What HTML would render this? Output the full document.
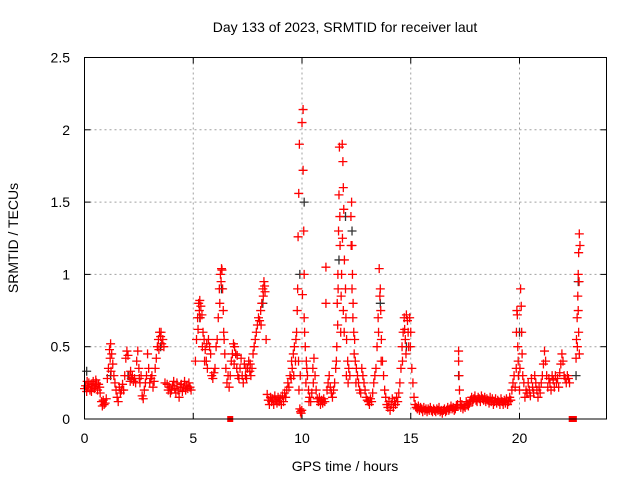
<!DOCTYPE html>
<html><head><meta charset="utf-8"><style>
body{margin:0;background:#fff;}
svg{display:block;font-family:"Liberation Sans",sans-serif;}
</style></head><body>
<svg id="chart" width="640" height="480">
<text x="345" y="32" font-size="14" text-anchor="middle">Day 133 of 2023, SRMTID for receiver laut</text>
<text x="345" y="471" font-size="14" text-anchor="middle">GPS time / hours</text>
<text transform="translate(18,238) rotate(-90)" font-size="14" text-anchor="middle">SRMTID / TECUs</text>
<g id="grid"></g>
<g id="ticks"></g>
<g id="black"></g>
<g id="red"></g>
<rect x="84.5" y="57.5" width="522" height="361.5" fill="none" stroke="#000"/>
</svg>
<script>
const xTicks=[0,5,10,15,20];
const yTicks=[0,0.5,1,1.5,2,2.5];
const yTickLabels=["0","0.5","1","1.5","2","2.5"];
const redPoints=[
[0,0.21],[0.05,0.23],[0.1,0.19],[0.15,0.22],[0.2,0.25],[0.25,0.2],[0.3,0.24],[0.35,0.22],[0.4,0.26],[0.45,0.21],[0.5,0.23],[0.55,0.25],[0.6,0.2],[0.65,0.24],[0.7,0.22],[0.72,0.18],[0.78,0.12],[0.82,0.09],[0.86,0.13],[0.9,0.1],[0.95,0.11],[1.0,0.14],[1.05,0.28],[1.1,0.35],[1.15,0.48],[1.2,0.52],[1.25,0.45],[1.3,0.38],[1.35,0.3],[1.4,0.25],[1.45,0.2],[1.5,0.15],[1.55,0.12],[1.6,0.22],[1.65,0.18],[1.7,0.2],[1.75,0.24],[1.8,0.2],[1.85,0.3],[1.9,0.42],[1.95,0.47],[2.0,0.44],[2.05,0.3],[2.1,0.26],[2.15,0.28],[2.2,0.3],[2.25,0.26],[2.3,0.28],[2.35,0.25],[2.4,0.4],[2.45,0.47],[2.5,0.35],[2.55,0.25],[2.6,0.3],[2.65,0.16],[2.7,0.14],[2.75,0.2],[2.8,0.25],[2.85,0.3],[2.9,0.45],[2.95,0.35],[3.0,0.25],[3.05,0.28],[3.1,0.3],[3.15,0.22],[3.2,0.26],[3.25,0.35],[3.3,0.42],[3.35,0.5],[3.4,0.55],[3.45,0.6],[3.5,0.57],[3.55,0.52],[3.6,0.55],[3.65,0.5],[3.7,0.25],[3.8,0.24],[3.85,0.2],[3.9,0.22],[3.95,0.18],[4.0,0.2],[4.05,0.23],[4.1,0.26],[4.15,0.21],[4.2,0.18],[4.25,0.25],[4.3,0.2],[4.35,0.15],[4.4,0.22],[4.45,0.24],[4.5,0.19],[4.55,0.22],[4.6,0.26],[4.65,0.2],[4.7,0.23],[4.75,0.21],[4.8,0.25],[4.85,0.22],[4.9,0.2],[5.1,0.4],[5.15,0.55],[5.2,0.7],[5.25,0.8],[5.3,0.82],[5.35,0.78],[5.4,0.72],[5.45,0.6],[5.5,0.55],[5.55,0.48],[5.6,0.4],[5.65,0.35],[5.7,0.55],[5.75,0.5],[5.8,0.45],[5.85,0.3],[5.9,0.28],[5.95,0.32],[6.0,0.35],[6.05,0.5],[6.1,0.55],[6.15,0.7],[6.2,0.9],[6.25,1.0],[6.3,1.04],[6.35,0.9],[6.38,0.75],[6.42,0.55],[6.45,0.45],[6.5,0.35],[6.55,0.25],[6.6,0.3],[6.65,0.22],[6.7,0.3],[6.75,0.4],[6.8,0.45],[6.85,0.52],[6.9,0.5],[6.95,0.45],[7.0,0.35],[7.05,0.3],[7.1,0.28],[7.15,0.35],[7.2,0.42],[7.25,0.3],[7.3,0.25],[7.35,0.38],[7.4,0.3],[7.45,0.28],[7.5,0.35],[7.55,0.4],[7.6,0.33],[7.65,0.3],[7.7,0.35],[7.75,0.45],[7.8,0.5],[7.85,0.55],[7.9,0.6],[7.95,0.65],[8.0,0.7],[8.05,0.68],[8.1,0.75],[8.15,0.8],[8.2,0.9],[8.25,0.95],[8.3,0.88],[8.35,0.55],[8.4,0.17],[8.45,0.13],[8.5,0.1],[8.55,0.15],[8.6,0.12],[8.65,0.14],[8.7,0.1],[8.75,0.16],[8.8,0.13],[8.85,0.11],[8.9,0.15],[8.95,0.12],[9.0,0.14],[9.05,0.1],[9.1,0.16],[9.15,0.12],[9.2,0.18],[9.25,0.15],[9.3,0.2],[9.35,0.25],[9.4,0.22],[9.45,0.3],[9.5,0.28],[9.55,0.35],[9.6,0.45],[9.65,0.5],[9.7,0.4],[9.75,0.6],[9.8,0.9],[9.82,1.26],[9.85,1.56],[9.88,1.9],[9.9,0.07],[9.93,0.05],[9.96,0.04],[9.99,0.06],[10.0,2.05],[10.05,2.14],[10.05,1.72],[10.1,1.0],[10.1,0.7],[10.15,0.5],[10.2,0.4],[10.25,0.3],[10.3,0.2],[10.35,0.15],[10.4,0.12],[10.45,0.18],[10.5,0.35],[10.55,0.42],[10.6,0.3],[10.65,0.2],[10.7,0.14],[10.75,0.12],[10.8,0.15],[10.85,0.1],[10.9,0.13],[10.95,0.11],[11.0,0.14],[11.05,0.12],[11.1,1.05],[11.1,0.8],[11.15,0.2],[11.2,0.25],[11.25,0.3],[11.3,0.22],[11.35,0.18],[11.4,0.15],[11.45,0.2],[11.5,0.25],[11.55,0.35],[11.6,0.5],[11.62,0.8],[11.65,1.0],[11.68,1.3],[11.7,1.55],[11.72,1.88],[11.75,1.2],[11.78,0.6],[11.8,0.85],[11.85,1.9],[11.88,1.78],[11.9,1.6],[11.92,1.45],[11.95,1.1],[12.0,0.9],[12.02,0.7],[12.05,0.55],[12.1,0.4],[12.15,0.35],[12.2,0.3],[12.25,1.4],[12.28,1.5],[12.3,1.2],[12.32,1.0],[12.35,0.8],[12.38,0.6],[12.4,0.45],[12.45,0.4],[12.5,0.35],[12.55,0.3],[12.6,0.25],[12.65,0.2],[12.7,0.18],[12.75,0.35],[12.8,0.3],[12.85,0.25],[12.9,0.2],[12.95,0.15],[13.0,0.13],[13.05,0.12],[13.1,0.1],[13.15,0.14],[13.2,0.12],[13.25,0.18],[13.3,0.25],[13.35,0.3],[13.4,0.35],[13.45,0.5],[13.5,0.7],[13.55,1.04],[13.6,0.9],[13.62,0.75],[13.65,0.55],[13.7,0.4],[13.75,0.3],[13.8,0.2],[13.85,0.15],[13.9,0.1],[13.95,0.08],[14.0,0.12],[14.05,0.06],[14.1,0.1],[14.15,0.14],[14.2,0.08],[14.25,0.12],[14.3,0.1],[14.35,0.15],[14.4,0.12],[14.45,0.18],[14.5,0.25],[14.55,0.35],[14.6,0.5],[14.65,0.6],[14.7,0.7],[14.75,0.55],[14.8,0.72],[14.85,0.68],[14.9,0.5],[14.95,0.7],[15.0,0.6],[15.05,0.35],[15.1,0.25],[15.15,0.15],[15.2,0.1],[15.25,0.08],[15.3,0.07],[15.35,0.09],[15.4,0.06],[15.45,0.08],[15.5,0.07],[15.55,0.05],[15.6,0.08],[15.65,0.06],[15.7,0.07],[15.75,0.05],[15.8,0.07],[15.85,0.06],[15.9,0.08],[15.95,0.06],[16.0,0.05],[16.05,0.07],[16.1,0.06],[16.15,0.05],[16.2,0.07],[16.25,0.06],[16.3,0.08],[16.35,0.05],[16.4,0.06],[16.45,0.04],[16.5,0.06],[16.55,0.07],[16.6,0.05],[16.65,0.06],[16.7,0.08],[16.75,0.06],[16.8,0.07],[16.85,0.09],[16.9,0.07],[16.95,0.08],[17.0,0.06],[17.05,0.07],[17.1,0.09],[17.15,0.1],[17.2,0.47],[17.2,0.4],[17.22,0.3],[17.24,0.2],[17.28,0.12],[17.3,0.08],[17.35,0.1],[17.4,0.07],[17.45,0.09],[17.5,0.08],[17.55,0.12],[17.6,0.1],[17.65,0.09],[17.7,0.11],[17.75,0.13],[17.8,0.15],[17.85,0.12],[17.9,0.14],[17.95,0.16],[18.0,0.13],[18.05,0.12],[18.1,0.15],[18.15,0.14],[18.2,0.12],[18.25,0.16],[18.3,0.14],[18.35,0.13],[18.4,0.15],[18.45,0.12],[18.5,0.14],[18.55,0.13],[18.6,0.11],[18.65,0.15],[18.7,0.12],[18.75,0.14],[18.8,0.1],[18.85,0.12],[18.9,0.14],[18.95,0.11],[19.0,0.13],[19.05,0.12],[19.1,0.1],[19.15,0.14],[19.2,0.12],[19.25,0.1],[19.3,0.13],[19.35,0.11],[19.4,0.14],[19.45,0.1],[19.5,0.12],[19.55,0.15],[19.6,0.13],[19.65,0.2],[19.7,0.25],[19.75,0.3],[19.8,0.22],[19.85,0.35],[19.88,0.75],[19.9,0.72],[19.92,0.5],[19.95,0.3],[20.0,0.2],[20.05,0.9],[20.08,0.78],[20.1,0.6],[20.12,0.45],[20.15,0.3],[20.2,0.25],[20.25,0.15],[20.3,0.2],[20.35,0.18],[20.4,0.25],[20.45,0.2],[20.5,0.16],[20.55,0.28],[20.6,0.22],[20.65,0.18],[20.7,0.3],[20.75,0.25],[20.8,0.2],[20.85,0.15],[20.9,0.22],[20.95,0.18],[21.0,0.25],[21.05,0.3],[21.1,0.38],[21.15,0.47],[21.2,0.4],[21.25,0.3],[21.3,0.22],[21.35,0.28],[21.4,0.25],[21.45,0.2],[21.5,0.3],[21.55,0.27],[21.6,0.22],[21.65,0.3],[21.7,0.25],[21.75,0.28],[21.8,0.22],[21.85,0.32],[21.9,0.38],[21.95,0.45],[22.0,0.4],[22.05,0.3],[22.1,0.28],[22.15,0.25],[22.2,0.3],[22.25,0.28],[22.3,0.25],[22.4,0.0],[22.5,0.0],[22.6,0.42],[22.62,0.55],[22.65,0.7],[22.68,0.85],[22.7,1.0],[22.72,1.15],[22.75,1.28],[22.78,1.2],[22.75,0.45],[22.72,0.6],[6.7,0.0],
[0.12,0.26],[0.32,0.19],[0.52,0.27],[1.18,0.42],[1.22,0.33],[2.12,0.33],[2.52,0.28],[3.42,0.48],[3.52,0.6],[5.22,0.62],[5.28,0.75],[5.32,0.7],[5.42,0.5],[5.52,0.4],[5.62,0.52],[6.22,0.8],[6.28,0.95],[6.32,1.03],[6.4,0.6],[6.88,0.38],[7.02,0.44],[7.42,0.35],[7.62,0.38],[8.12,0.65],[8.22,0.85],[8.28,0.92],[9.52,0.4],[9.62,0.3],[9.72,0.55],[9.78,0.75],[9.84,0.4],[9.86,0.2],[9.92,0.3],[10.02,0.86],[10.08,1.3],[10.12,0.6],[10.18,0.25],[10.22,0.35],[10.32,0.12],[10.52,0.25],[11.58,0.4],[11.64,0.65],[11.66,0.9],[11.74,1.4],[11.82,1.0],[11.86,1.25],[11.9,0.75],[11.94,0.6],[12.04,0.3],[12.12,0.25],[12.26,1.2],[12.3,0.9],[12.34,0.7],[12.42,0.55],[12.48,0.25],[13.52,0.6],[13.58,0.85],[13.64,0.4],[14.62,0.4],[14.72,0.62],[14.78,0.45],[14.88,0.6],[14.98,0.5],[19.86,0.6],[19.94,0.4],[20.02,0.35],[22.66,0.5],[22.7,0.75],[22.74,0.95]
];
const blackPoints=[
[1.2,0.3],[2.0,0.3],[3.5,0.5],[5.3,0.7],[6.3,0.9],[8.2,0.8],[9.9,1.0],[10.1,1.5],[11.7,1.1],[12.3,1.3],[13.6,0.8],[14.8,0.5],[17.2,0.3],[20.0,0.6],[22.7,0.95],[22.6,0.3],[0.1,0.33],[12.0,1.4]
];
const X0=84.5,X1=606.5,Y0=419,Y1=57.5,XMAX=24,YMAX=2.5;
const sx=t=>X0+t/XMAX*(X1-X0);
const sy=v=>Y0-v/YMAX*(Y0-Y1);
const NS="http://www.w3.org/2000/svg";
const grid=document.getElementById('grid'),ticks=document.getElementById('ticks');
function mk(tag,attrs,parent){const e=document.createElementNS(NS,tag);for(const k in attrs)e.setAttribute(k,attrs[k]);parent.appendChild(e);return e;}
xTicks.forEach(t=>{
  const x=sx(t);
  if(t>0){const g=mk('line',{x1:x,x2:x,y1:Y1,y2:Y0,stroke:'#a0a0a0','stroke-dasharray':'2,3'},grid);
  
  }
  mk('line',{x1:x,x2:x,y1:Y0,y2:Y0-6,stroke:'#000'},ticks);
  mk('line',{x1:x,x2:x,y1:Y1,y2:Y1+6,stroke:'#000'},ticks);
  const l=mk('text',{x:x,y:443,'font-size':14,'text-anchor':'middle'},ticks);l.textContent=t;
  
  
});
yTicks.forEach((v,i)=>{
  const y=sy(v);
  if(v>0&&v<YMAX){const g=mk('line',{x1:X0,x2:X1,y1:y,y2:y,stroke:'#a0a0a0','stroke-dasharray':'2,3'},grid);
  
  }
  mk('line',{x1:X0,x2:X0+6,y1:y,y2:y,stroke:'#000'},ticks);
  mk('line',{x1:X1,x2:X1-6,y1:y,y2:y,stroke:'#000'},ticks);
  const l=mk('text',{x:70,y:y+5,'font-size':14,'text-anchor':'end'},ticks);l.textContent=yTickLabels[i];
  
  
});
function plot(points,color,gid){
  const g=document.getElementById(gid);
  points.forEach(p=>{
    const x=sx(p[0]),y=sy(p[1]);
    let e;
    if(p[1]===0){e=mk('rect',{x:x-3,y:y-3,width:6,height:6,fill:color},g);}
    else e=mk('path',{d:`M${x-4.5},${y}h9M${x},${y-4.5}v9`,stroke:color,'stroke-width':1.3,fill:'none'},g);
    
    
  });
}
plot(blackPoints,'#333','black');
plot(redPoints,'#f00','red');
</script>
</body></html>
